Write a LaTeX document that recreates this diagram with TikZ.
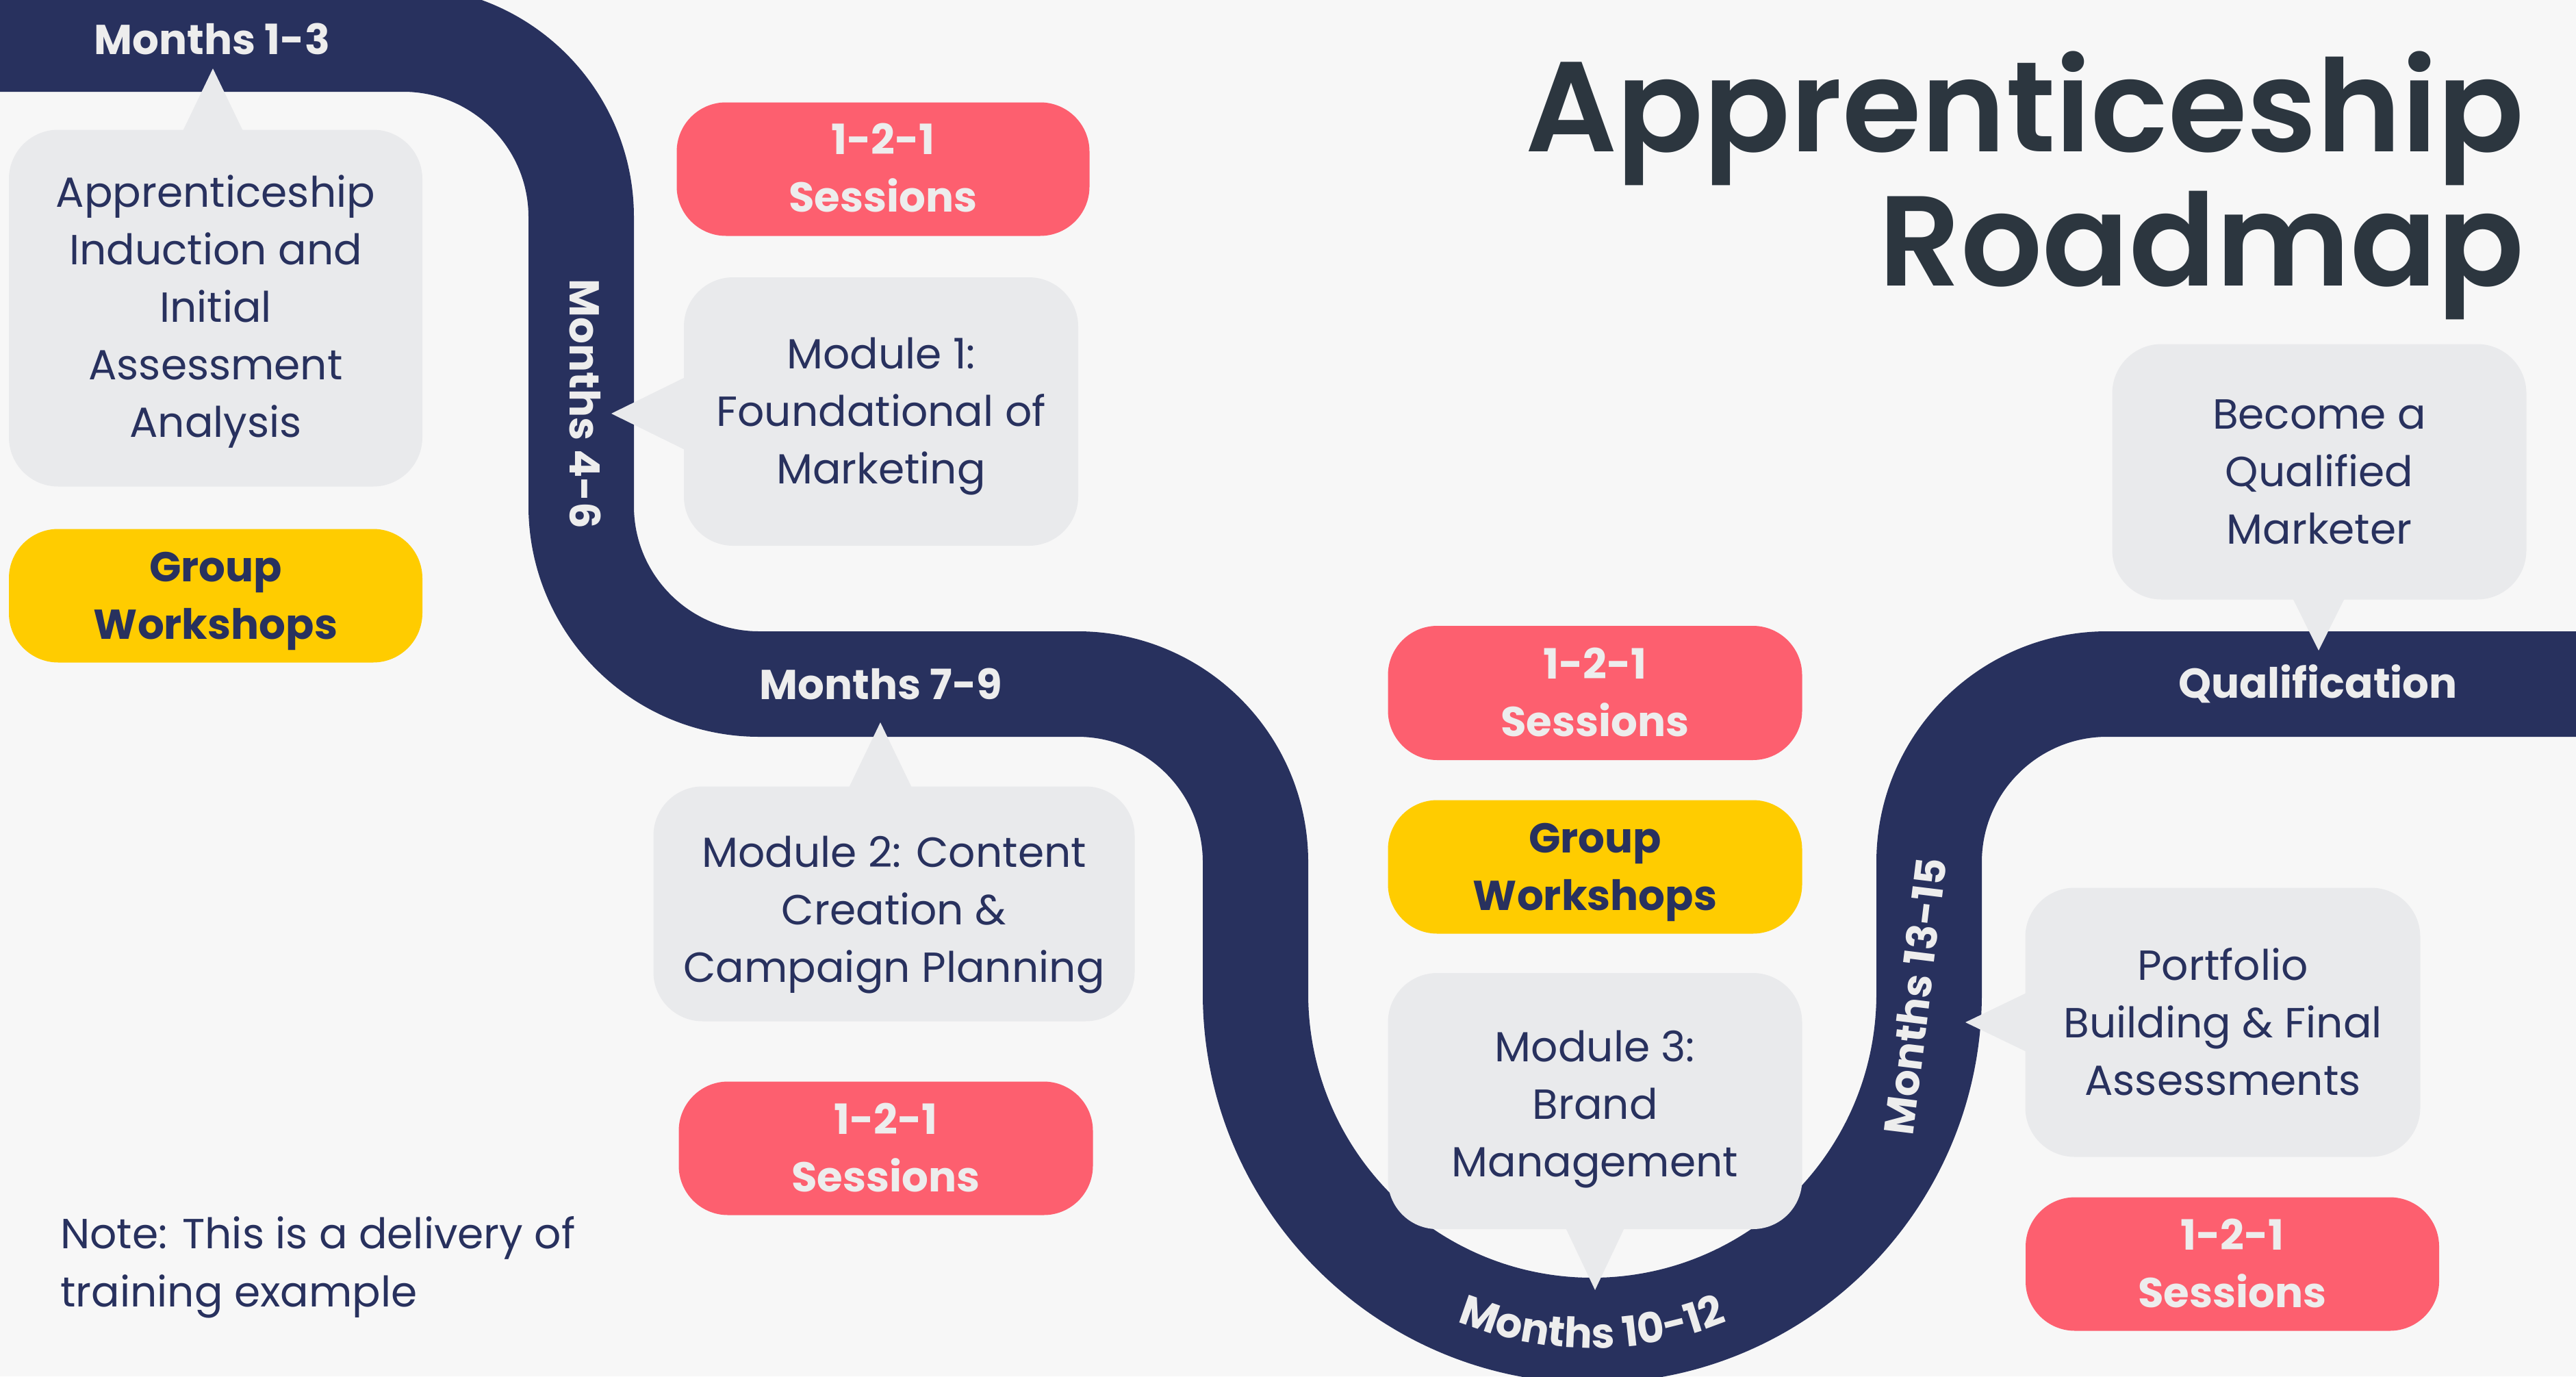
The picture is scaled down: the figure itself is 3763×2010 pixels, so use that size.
\documentclass[tikz,border=0pt]{standalone}
\usepackage{fontspec}
\setmainfont{Poppins}
\newfontfamily\titlefont{Poppins SemiBold}
\usetikzlibrary{calc,decorations.text}

\definecolor{bgc}{HTML}{F7F7F7}
\definecolor{navy}{HTML}{28315E}
\definecolor{boxgray}{HTML}{E9EAEC}
\definecolor{pinkc}{HTML}{FD5F6F}
\definecolor{yellowc}{HTML}{FFCC00}
\definecolor{titlec}{HTML}{2C363F}
\definecolor{lighttext}{HTML}{EDEDED}

\newcommand{\bodyfont}{\fontsize{61.5}{84}\selectfont}
\newcommand{\labfont}{\fontsize{61}{84}\selectfont\bfseries}
\newcommand{\bigtitlefont}{\titlefont\fontsize{187}{196}\selectfont}

\begin{document}
\begin{tikzpicture}[x=1pt,y=1pt,
  card/.style={rounded corners=72pt, inner sep=0pt},
  graycard/.style={card, fill=boxgray},
  pinkcard/.style={card, fill=pinkc, minimum width=605pt, minimum height=195pt},
  yellowcard/.style={card, fill=yellowc, minimum width=605pt, minimum height=195pt},
  graytext/.style={inner sep=0pt, align=center, text=navy, font=\bodyfont},
  pinktext/.style={inner sep=0pt, align=center, text=lighttext, font=\labfont},
  yellowtext/.style={inner sep=0pt, align=center, text=navy, font=\labfont},
  roadlabel/.style={text=lighttext, font=\labfont, inner sep=0pt},
  roadline/.style={draw=navy, line width=154pt},
]
\useasboundingbox (0,0) rectangle (3763,-2010);
\clip (0,0) rectangle (3763,-2010);
\fill[bgc] (0,0) rectangle (3763,-2010);

% road
\draw[roadline] (-60,-57) -- (589,-57)
  arc[start angle=90, end angle=0, radius=260pt] -- (849,-739)
  arc[start angle=180, end angle=270, radius=260pt] -- (1574,-999)
  arc[start angle=90, end angle=0, radius=260pt] -- (1834,-1451)
  arc[start angle=180, end angle=360, radius=492pt] -- (2818,-1259)
  arc[start angle=180, end angle=90, radius=260pt] -- (3840,-999);

% card shapes
\node[graycard, minimum width=604pt, minimum height=521pt] (boxA) at (315,-450) {};
\node[yellowcard, minimum width=604pt] (groupA) at (315,-870) {};
\node[pinkcard, minimum width=603pt] (pinkA) at (1290,-247) {};
\node[graycard, minimum width=576pt, minimum height=392pt] (mod1) at (1287,-601) {};
\node[graycard, minimum width=703pt, minimum height=343pt] (mod2) at (1306,-1320) {};
\node[pinkcard] (pinkB) at (1294,-1677) {};
\node[pinkcard, minimum height=196pt] (pinkC) at (2330,-1012) {};
\node[yellowcard] (groupC) at (2330,-1266) {};
\node[graycard, minimum width=605pt, minimum height=374pt] (mod3) at (2330,-1608) {};
\node[graycard, minimum width=577pt, minimum height=393pt] (portf) at (3247,-1493) {};
\node[pinkcard, minimum width=604pt] (pinkD) at (3261,-1846) {};
\node[graycard, minimum width=605pt, minimum height=373pt] (qual) at (3388,-689) {};

% pointers
\coordinate (tipA) at (311,-100);
\coordinate (tip1) at (893,-604);
\coordinate (tip2) at (1286,-1055);
\coordinate (tip3) at (2330,-1884);
\coordinate (tipP) at (2871,-1493);
\coordinate (tipQ) at (3387,-950);
\fill[boxgray] ($(boxA.north -| tipA)+(-44,-2)$) -- (tipA) -- ($(boxA.north -| tipA)+(44,-2)$) -- cycle;
\fill[boxgray] ($(mod1.west |- tip1)+(2,53)$) -- (tip1) -- ($(mod1.west |- tip1)+(2,-53)$) -- cycle;
\fill[boxgray] ($(mod2.north -| tip2)+(-46,-2)$) -- (tip2) -- ($(mod2.north -| tip2)+(46,-2)$) -- cycle;
\fill[boxgray] ($(mod3.south -| tip3)+(-43,2)$) -- (tip3) -- ($(mod3.south -| tip3)+(43,2)$) -- cycle;
\fill[boxgray] ($(portf.west |- tipP)+(2,43)$) -- (tipP) -- ($(portf.west |- tipP)+(2,-43)$) -- cycle;
\fill[boxgray] ($(qual.south -| tipQ)+(-38,2)$) -- (tipQ) -- ($(qual.south -| tipQ)+(38,2)$) -- cycle;

% card texts
\node[graytext] (boxAt) at ($(boxA.center)+(0,-5)$) {Apprenticeship\\Induction and\\Initial\\Assessment\\Analysis};
\node[yellowtext] (groupAt) at ($(groupA.center)+(0,-8)$) {Group\\Workshops};
\node[pinktext] (pinkAt) at ($(pinkA.center)+(0,2)$) {1-2-1\\Sessions};
\node[graytext] (mod1t) at ($(mod1.center)+(0,-7)$) {Module 1:\\Foundational of\\Marketing};
\node[graytext] (mod2t) at ($(mod2.center)+(0,-16)$) {Module 2: Content\\Creation \&\\Campaign Planning};
\node[pinktext] (pinkBt) at ($(pinkB.center)+(0,1)$) {1-2-1\\Sessions};
\node[pinktext] (pinkCt) at ($(pinkC.center)+(0,1)$) {1-2-1\\Sessions};
\node[yellowtext] (groupCt) at ($(groupC.center)+(0,-8)$) {Group\\Workshops};
\node[graytext] (mod3t) at ($(mod3.center)+(0,-12)$) {Module 3:\\Brand\\Management};
\node[graytext] (portft) at ($(portf.center)+(0,1)$) {Portfolio\\Building \& Final\\Assessments};
\node[pinktext] (pinkDt) at ($(pinkD.center)+(0,1)$) {1-2-1\\Sessions};
\node[graytext] (qualt) at (qual.center) {Become a\\Qualified\\Marketer};

% road labels
\node[roadlabel] (m13) at (310,-57) {Months 1-3};
\node[roadlabel, rotate=-90] (m46) at (855,-590) {Months 4-6};
\node[roadlabel] (m79) at (1287,-999) {Months 7-9};
\node[roadlabel] (mq) at (3386,-999) {Qualification};
\node[roadlabel, rotate=83] (m1315) at (2797,-1455) {Months 13-15};
\coordinate (ucenter) at (2326,-1451);
\coordinate (arcstart) at ($(ucenter)+(235:518pt)$);
\path[decorate, decoration={text along path, text align=center, text color=lighttext,
  text={|\labfont|Months 10-12}}]
  (arcstart) arc[start angle=235, end angle=305, radius=518pt];

% title
\node[anchor=base east, inner sep=0pt, text=titlec, font=\bigtitlefont] (title1) at (3687,-221) {Apprenticeship};
\node[anchor=base east, inner sep=0pt, text=titlec, font=\bigtitlefont] (title2) at (3687,-417) {Roadmap};

% note
\node[anchor=base west, inner sep=0pt, text=navy, font=\bodyfont] (note1) at (88,-1823) {Note: This is a delivery of};
\node[anchor=base west, inner sep=0pt, text=navy, font=\bodyfont] (note2) at (88,-1908) {training example};
\end{tikzpicture}
\end{document}
